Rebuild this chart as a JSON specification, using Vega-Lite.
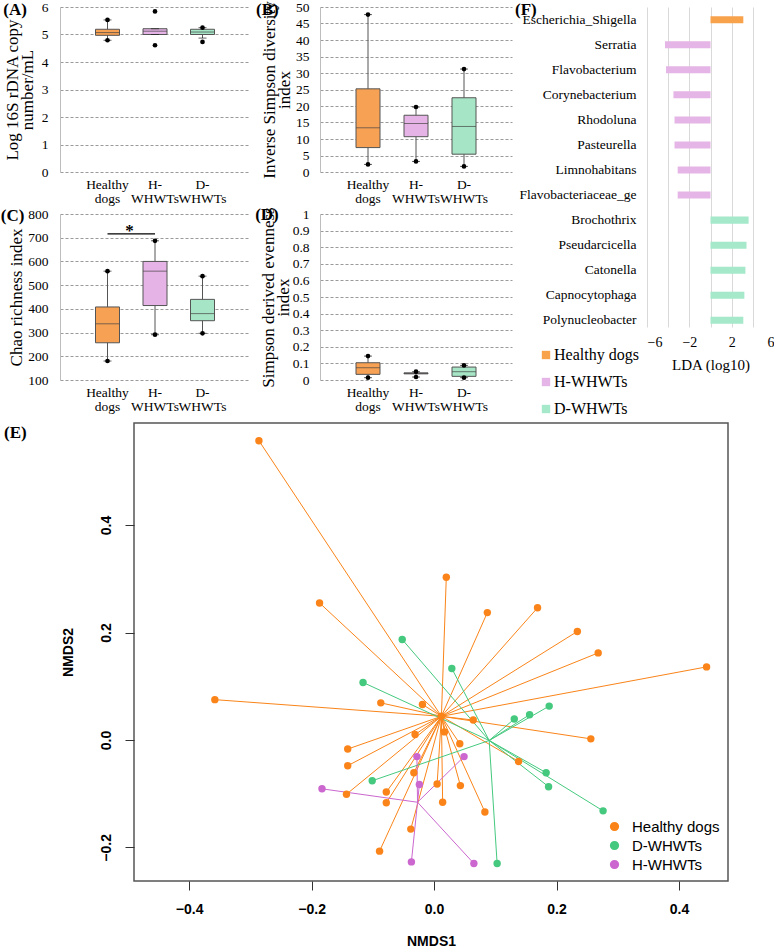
{
  "$schema": "https://vega.github.io/schema/vega-lite/v6.json",
  "padding": 0,
  "background": "white",
  "config": {"view": {"stroke": null}, "font": "Liberation Serif", "axis": {"labelColor": "black", "titleColor": "black"}},
  "datasets": {
    "boxA": [
      {"g": "Healthy dogs", "min": 4.79, "q1": 4.97, "med": 5.07, "q3": 5.19, "max": 5.53, "lo": 4.79, "hi": 5.53},
      {"g": "H-WHWTs", "min": 5.0, "q1": 5.0, "med": 5.12, "q3": 5.21, "max": 5.21, "lo": 4.61, "hi": 5.84},
      {"g": "D-WHWTs", "min": 4.87, "q1": 5.0, "med": 5.09, "q3": 5.19, "max": 5.25, "lo": 4.73, "hi": 5.25}
    ],
    "boxB": [
      {"g": "Healthy dogs", "min": 2.3, "q1": 7.4, "med": 13.4, "q3": 25.2, "max": 47.7, "lo": 2.3, "hi": 47.7},
      {"g": "H-WHWTs", "min": 3.2, "q1": 10.7, "med": 14.7, "q3": 17.2, "max": 19.7, "lo": 3.2, "hi": 19.7},
      {"g": "D-WHWTs", "min": 1.7, "q1": 5.4, "med": 13.8, "q3": 22.5, "max": 31.2, "lo": 1.7, "hi": 31.2}
    ],
    "boxC": [
      {"g": "Healthy dogs", "min": 180, "q1": 257, "med": 337, "q3": 408, "max": 559, "lo": 180, "hi": 559},
      {"g": "H-WHWTs", "min": 291, "q1": 414, "med": 559, "q3": 600, "max": 687, "lo": 291, "hi": 687},
      {"g": "D-WHWTs", "min": 297, "q1": 350, "med": 380, "q3": 440, "max": 538, "lo": 297, "hi": 538}
    ],
    "boxD": [
      {"g": "Healthy dogs", "min": 0.014, "q1": 0.034, "med": 0.074, "q3": 0.104, "max": 0.144, "lo": 0.014, "hi": 0.144},
      {"g": "H-WHWTs", "min": 0.018, "q1": 0.037, "med": 0.04, "q3": 0.043, "max": 0.05, "lo": 0.018, "hi": 0.05},
      {"g": "D-WHWTs", "min": 0.014, "q1": 0.022, "med": 0.05, "q3": 0.078, "max": 0.088, "lo": 0.014, "hi": 0.088}
    ],
    "sig": [{"a": "Healthy dogs", "b": "H-WHWTs", "v": 716, "s": "*"}],
    "blank": [{"k": ""}],
    "lda": [
      {"genus": "Escherichia_Shigella", "lda": 3.1, "grp": "Healthy dogs"},
      {"genus": "Serratia", "lda": -4.3, "grp": "H-WHWTs"},
      {"genus": "Flavobacterium", "lda": -4.2, "grp": "H-WHWTs"},
      {"genus": "Corynebacterium", "lda": -3.5, "grp": "H-WHWTs"},
      {"genus": "Rhodoluna", "lda": -3.4, "grp": "H-WHWTs"},
      {"genus": "Pasteurella", "lda": -3.4, "grp": "H-WHWTs"},
      {"genus": "Limnohabitans", "lda": -3.1, "grp": "H-WHWTs"},
      {"genus": "Flavobacteriaceae_ge", "lda": -3.1, "grp": "H-WHWTs"},
      {"genus": "Brochothrix", "lda": 3.6, "grp": "D-WHWTs"},
      {"genus": "Pseudarcicella", "lda": 3.4, "grp": "D-WHWTs"},
      {"genus": "Catonella", "lda": 3.3, "grp": "D-WHWTs"},
      {"genus": "Capnocytophaga", "lda": 3.2, "grp": "D-WHWTs"},
      {"genus": "Polynucleobacter", "lda": 3.1, "grp": "D-WHWTs"}
    ],
    "cent": [
      {"g": "Healthy dogs", "cx": 0.012, "cy": 0.044},
      {"g": "D-WHWTs", "cx": 0.090, "cy": -0.001},
      {"g": "H-WHWTs", "cx": -0.027, "cy": -0.116}
    ],
    "nmds": [
      {"g": "Healthy dogs", "x": -0.286, "y": 0.557},
      {"g": "Healthy dogs", "x": -0.187, "y": 0.255},
      {"g": "Healthy dogs", "x": 0.020, "y": 0.303},
      {"g": "Healthy dogs", "x": 0.087, "y": 0.237},
      {"g": "Healthy dogs", "x": 0.169, "y": 0.246},
      {"g": "Healthy dogs", "x": 0.234, "y": 0.202},
      {"g": "Healthy dogs", "x": 0.268, "y": 0.162},
      {"g": "Healthy dogs", "x": 0.445, "y": 0.136},
      {"g": "Healthy dogs", "x": -0.358, "y": 0.075},
      {"g": "Healthy dogs", "x": -0.087, "y": 0.069},
      {"g": "Healthy dogs", "x": -0.141, "y": -0.017},
      {"g": "Healthy dogs", "x": -0.141, "y": -0.048},
      {"g": "Healthy dogs", "x": -0.143, "y": -0.101},
      {"g": "Healthy dogs", "x": -0.078, "y": -0.097},
      {"g": "Healthy dogs", "x": -0.078, "y": -0.117},
      {"g": "Healthy dogs", "x": -0.089, "y": -0.207},
      {"g": "Healthy dogs", "x": -0.019, "y": 0.066},
      {"g": "Healthy dogs", "x": 0.064, "y": 0.037},
      {"g": "Healthy dogs", "x": -0.031, "y": 0.010},
      {"g": "Healthy dogs", "x": 0.017, "y": 0.015},
      {"g": "Healthy dogs", "x": 0.042, "y": -0.007},
      {"g": "Healthy dogs", "x": -0.033, "y": -0.061},
      {"g": "Healthy dogs", "x": 0.005, "y": -0.082},
      {"g": "Healthy dogs", "x": 0.043, "y": -0.085},
      {"g": "Healthy dogs", "x": 0.014, "y": -0.116},
      {"g": "Healthy dogs", "x": 0.083, "y": -0.134},
      {"g": "Healthy dogs", "x": 0.256, "y": 0.002},
      {"g": "Healthy dogs", "x": 0.138, "y": -0.040},
      {"g": "Healthy dogs", "x": -0.038, "y": -0.166},
      {"g": "Healthy dogs", "x": 0.012, "y": 0.044},
      {"g": "D-WHWTs", "x": -0.052, "y": 0.187},
      {"g": "D-WHWTs", "x": 0.029, "y": 0.133},
      {"g": "D-WHWTs", "x": -0.116, "y": 0.107},
      {"g": "D-WHWTs", "x": 0.131, "y": 0.039},
      {"g": "D-WHWTs", "x": 0.156, "y": 0.047},
      {"g": "D-WHWTs", "x": 0.188, "y": 0.063},
      {"g": "D-WHWTs", "x": -0.101, "y": -0.076},
      {"g": "D-WHWTs", "x": 0.183, "y": -0.061},
      {"g": "D-WHWTs", "x": 0.187, "y": -0.087},
      {"g": "D-WHWTs", "x": 0.276, "y": -0.132},
      {"g": "D-WHWTs", "x": 0.103, "y": -0.230},
      {"g": "H-WHWTs", "x": -0.183, "y": -0.091},
      {"g": "H-WHWTs", "x": -0.028, "y": -0.031},
      {"g": "H-WHWTs", "x": 0.049, "y": -0.031},
      {"g": "H-WHWTs", "x": -0.024, "y": -0.083},
      {"g": "H-WHWTs", "x": -0.037, "y": -0.227},
      {"g": "H-WHWTs", "x": 0.065, "y": -0.230}
    ]
  },
  "concat": [
    {
      "concat": [
        {
          "concat": [
            {
              "width": 190, "height": 165,
              "data": {"name": "boxA"},
              "title": {"text": "(A)", "anchor": "start", "frame": "bounds", "offset": 0, "dx": 0, "dy": 18.5, "font": "Liberation Serif", "fontSize": 17, "fontWeight": "bold", "color": "black"},
              "encoding": {"x": {"field": "g", "type": "nominal", "scale": {"domain": ["Healthy dogs", "H-WHWTs", "D-WHWTs"], "paddingInner": 0, "paddingOuter": 0.5}, "axis": {"title": null, "labelAngle": 0, "domain": false, "ticks": false, "labelExpr": "datum.value == 'Healthy dogs' ? ['Healthy', 'dogs'] : datum.value == 'H-WHWTs' ? ['H-', 'WHWTs'] : ['D-', 'WHWTs']", "labelFont": "Liberation Serif", "labelFontSize": 13.5, "labelPadding": 5, "labelLineHeight": 14, "labelBaseline": "top"}}},
              "layer": [
                {"mark": {"type": "rule", "color": "#555"}, "encoding": {"y": {"field": "min", "type": "quantitative", "scale": {"domain": [0, 6], "nice": false}, "axis": {"values": [0, 1, 2, 3, 4, 5, 6], "title": ["Log 16S rDNA copy", "number/mL"], "grid": true, "gridDash": [3, 2], "gridColor": "#9a9a9a", "domainColor": "#bdbdbd", "ticks": false, "labelPadding": 12, "labelFont": "Liberation Serif", "labelFontSize": 13.5, "titleFont": "Liberation Serif", "titleFontSize": 17, "titleFontWeight": "normal", "titlePadding": 5, "titleLineHeight": 15}}, "y2": {"field": "max"}}},
                {"mark": {"type": "bar", "size": 24, "stroke": "#555", "strokeWidth": 1}, "encoding": {"y": {"field": "q1", "type": "quantitative", "axis": {"values": [0, 1, 2, 3, 4, 5, 6], "title": ["Log 16S rDNA copy", "number/mL"], "grid": true, "gridDash": [3, 2], "gridColor": "#9a9a9a", "domainColor": "#bdbdbd", "ticks": false, "labelPadding": 12, "labelFont": "Liberation Serif", "labelFontSize": 13.5, "titleFont": "Liberation Serif", "titleFontSize": 17, "titleFontWeight": "normal", "titlePadding": 5, "titleLineHeight": 15}}, "y2": {"field": "q3"}, "color": {"field": "g", "type": "nominal", "scale": {"domain": ["Healthy dogs", "H-WHWTs", "D-WHWTs"], "range": ["#F7A154", "#E6B3E6", "#A6E6C6"]}, "legend": null}}},
                {"mark": {"type": "tick", "size": 24, "thickness": 1, "color": "#444"}, "encoding": {"y": {"field": "med", "type": "quantitative", "axis": {"values": [0, 1, 2, 3, 4, 5, 6], "title": ["Log 16S rDNA copy", "number/mL"], "grid": true, "gridDash": [3, 2], "gridColor": "#9a9a9a", "domainColor": "#bdbdbd", "ticks": false, "labelPadding": 12, "labelFont": "Liberation Serif", "labelFontSize": 13.5, "titleFont": "Liberation Serif", "titleFontSize": 17, "titleFontWeight": "normal", "titlePadding": 5, "titleLineHeight": 15}}}},
                {"mark": {"type": "tick", "size": 8, "thickness": 1, "color": "#222"}, "encoding": {"y": {"field": "min", "type": "quantitative", "axis": {"values": [0, 1, 2, 3, 4, 5, 6], "title": ["Log 16S rDNA copy", "number/mL"], "grid": true, "gridDash": [3, 2], "gridColor": "#9a9a9a", "domainColor": "#bdbdbd", "ticks": false, "labelPadding": 12, "labelFont": "Liberation Serif", "labelFontSize": 13.5, "titleFont": "Liberation Serif", "titleFontSize": 17, "titleFontWeight": "normal", "titlePadding": 5, "titleLineHeight": 15}}}},
                {"mark": {"type": "tick", "size": 8, "thickness": 1, "color": "#222"}, "encoding": {"y": {"field": "max", "type": "quantitative", "axis": {"values": [0, 1, 2, 3, 4, 5, 6], "title": ["Log 16S rDNA copy", "number/mL"], "grid": true, "gridDash": [3, 2], "gridColor": "#9a9a9a", "domainColor": "#bdbdbd", "ticks": false, "labelPadding": 12, "labelFont": "Liberation Serif", "labelFontSize": 13.5, "titleFont": "Liberation Serif", "titleFontSize": 17, "titleFontWeight": "normal", "titlePadding": 5, "titleLineHeight": 15}}}},
                {"mark": {"type": "circle", "size": 22, "color": "black", "opacity": 1}, "encoding": {"y": {"field": "lo", "type": "quantitative", "axis": {"values": [0, 1, 2, 3, 4, 5, 6], "title": ["Log 16S rDNA copy", "number/mL"], "grid": true, "gridDash": [3, 2], "gridColor": "#9a9a9a", "domainColor": "#bdbdbd", "ticks": false, "labelPadding": 12, "labelFont": "Liberation Serif", "labelFontSize": 13.5, "titleFont": "Liberation Serif", "titleFontSize": 17, "titleFontWeight": "normal", "titlePadding": 5, "titleLineHeight": 15}}}},
                {"mark": {"type": "circle", "size": 22, "color": "black", "opacity": 1}, "encoding": {"y": {"field": "hi", "type": "quantitative", "axis": {"values": [0, 1, 2, 3, 4, 5, 6], "title": ["Log 16S rDNA copy", "number/mL"], "grid": true, "gridDash": [3, 2], "gridColor": "#9a9a9a", "domainColor": "#bdbdbd", "ticks": false, "labelPadding": 12, "labelFont": "Liberation Serif", "labelFontSize": 13.5, "titleFont": "Liberation Serif", "titleFontSize": 17, "titleFontWeight": "normal", "titlePadding": 5, "titleLineHeight": 15}}}}
              ]
            },
            {
              "width": 192, "height": 165,
              "data": {"name": "boxB"},
              "title": {"text": "(B)", "anchor": "start", "frame": "bounds", "offset": 0, "dx": -4.5, "dy": 18.5, "font": "Liberation Serif", "fontSize": 17, "fontWeight": "bold", "color": "black"},
              "encoding": {"x": {"field": "g", "type": "nominal", "scale": {"domain": ["Healthy dogs", "H-WHWTs", "D-WHWTs"], "paddingInner": 0, "paddingOuter": 0.5}, "axis": {"title": null, "labelAngle": 0, "domain": false, "ticks": false, "labelExpr": "datum.value == 'Healthy dogs' ? ['Healthy', 'dogs'] : datum.value == 'H-WHWTs' ? ['H-', 'WHWTs'] : ['D-', 'WHWTs']", "labelFont": "Liberation Serif", "labelFontSize": 13.5, "labelPadding": 5, "labelLineHeight": 14, "labelBaseline": "top"}}},
              "layer": [
                {"mark": {"type": "rule", "color": "#555"}, "encoding": {"y": {"field": "min", "type": "quantitative", "scale": {"domain": [0, 50], "nice": false}, "axis": {"values": [0, 5, 10, 15, 20, 25, 30, 35, 40, 45, 50], "title": ["Inverse Simpson diversity", "index"], "grid": true, "gridDash": [3, 2], "gridColor": "#9a9a9a", "domainColor": "#bdbdbd", "ticks": false, "labelPadding": 11, "labelFont": "Liberation Serif", "labelFontSize": 13.5, "titleFont": "Liberation Serif", "titleFontSize": 17, "titleFontWeight": "normal", "titlePadding": 2, "titleLineHeight": 15}}, "y2": {"field": "max"}}},
                {"mark": {"type": "bar", "size": 24, "stroke": "#555", "strokeWidth": 1}, "encoding": {"y": {"field": "q1", "type": "quantitative", "axis": {"values": [0, 5, 10, 15, 20, 25, 30, 35, 40, 45, 50], "title": ["Inverse Simpson diversity", "index"], "grid": true, "gridDash": [3, 2], "gridColor": "#9a9a9a", "domainColor": "#bdbdbd", "ticks": false, "labelPadding": 11, "labelFont": "Liberation Serif", "labelFontSize": 13.5, "titleFont": "Liberation Serif", "titleFontSize": 17, "titleFontWeight": "normal", "titlePadding": 2, "titleLineHeight": 15}}, "y2": {"field": "q3"}, "color": {"field": "g", "type": "nominal", "scale": {"domain": ["Healthy dogs", "H-WHWTs", "D-WHWTs"], "range": ["#F7A154", "#E6B3E6", "#A6E6C6"]}, "legend": null}}},
                {"mark": {"type": "tick", "size": 24, "thickness": 1, "color": "#444"}, "encoding": {"y": {"field": "med", "type": "quantitative", "axis": {"values": [0, 5, 10, 15, 20, 25, 30, 35, 40, 45, 50], "title": ["Inverse Simpson diversity", "index"], "grid": true, "gridDash": [3, 2], "gridColor": "#9a9a9a", "domainColor": "#bdbdbd", "ticks": false, "labelPadding": 11, "labelFont": "Liberation Serif", "labelFontSize": 13.5, "titleFont": "Liberation Serif", "titleFontSize": 17, "titleFontWeight": "normal", "titlePadding": 2, "titleLineHeight": 15}}}},
                {"mark": {"type": "tick", "size": 8, "thickness": 1, "color": "#222"}, "encoding": {"y": {"field": "min", "type": "quantitative", "axis": {"values": [0, 5, 10, 15, 20, 25, 30, 35, 40, 45, 50], "title": ["Inverse Simpson diversity", "index"], "grid": true, "gridDash": [3, 2], "gridColor": "#9a9a9a", "domainColor": "#bdbdbd", "ticks": false, "labelPadding": 11, "labelFont": "Liberation Serif", "labelFontSize": 13.5, "titleFont": "Liberation Serif", "titleFontSize": 17, "titleFontWeight": "normal", "titlePadding": 2, "titleLineHeight": 15}}}},
                {"mark": {"type": "tick", "size": 8, "thickness": 1, "color": "#222"}, "encoding": {"y": {"field": "max", "type": "quantitative", "axis": {"values": [0, 5, 10, 15, 20, 25, 30, 35, 40, 45, 50], "title": ["Inverse Simpson diversity", "index"], "grid": true, "gridDash": [3, 2], "gridColor": "#9a9a9a", "domainColor": "#bdbdbd", "ticks": false, "labelPadding": 11, "labelFont": "Liberation Serif", "labelFontSize": 13.5, "titleFont": "Liberation Serif", "titleFontSize": 17, "titleFontWeight": "normal", "titlePadding": 2, "titleLineHeight": 15}}}},
                {"mark": {"type": "circle", "size": 22, "color": "black", "opacity": 1}, "encoding": {"y": {"field": "lo", "type": "quantitative", "axis": {"values": [0, 5, 10, 15, 20, 25, 30, 35, 40, 45, 50], "title": ["Inverse Simpson diversity", "index"], "grid": true, "gridDash": [3, 2], "gridColor": "#9a9a9a", "domainColor": "#bdbdbd", "ticks": false, "labelPadding": 11, "labelFont": "Liberation Serif", "labelFontSize": 13.5, "titleFont": "Liberation Serif", "titleFontSize": 17, "titleFontWeight": "normal", "titlePadding": 2, "titleLineHeight": 15}}}},
                {"mark": {"type": "circle", "size": 22, "color": "black", "opacity": 1}, "encoding": {"y": {"field": "hi", "type": "quantitative", "axis": {"values": [0, 5, 10, 15, 20, 25, 30, 35, 40, 45, 50], "title": ["Inverse Simpson diversity", "index"], "grid": true, "gridDash": [3, 2], "gridColor": "#9a9a9a", "domainColor": "#bdbdbd", "ticks": false, "labelPadding": 11, "labelFont": "Liberation Serif", "labelFontSize": 13.5, "titleFont": "Liberation Serif", "titleFontSize": 17, "titleFontWeight": "normal", "titlePadding": 2, "titleLineHeight": 15}}}}
              ]
            },
            {
              "width": 190, "height": 166,
              "data": {"name": "boxC"},
              "title": {"text": "(C)", "anchor": "start", "frame": "bounds", "offset": 0, "dx": -7, "dy": 17.5, "font": "Liberation Serif", "fontSize": 17, "fontWeight": "bold", "color": "black"},
              "encoding": {"x": {"field": "g", "type": "nominal", "scale": {"domain": ["Healthy dogs", "H-WHWTs", "D-WHWTs"], "paddingInner": 0, "paddingOuter": 0.5}, "axis": {"title": null, "labelAngle": 0, "domain": false, "ticks": false, "labelExpr": "datum.value == 'Healthy dogs' ? ['Healthy', 'dogs'] : datum.value == 'H-WHWTs' ? ['H-', 'WHWTs'] : ['D-', 'WHWTs']", "labelFont": "Liberation Serif", "labelFontSize": 13.5, "labelPadding": 5, "labelLineHeight": 14, "labelBaseline": "top"}}},
              "layer": [
                {"mark": {"type": "rule", "color": "#555"}, "encoding": {"y": {"field": "min", "type": "quantitative", "scale": {"domain": [100, 800], "nice": false, "zero": false}, "axis": {"values": [100, 200, 300, 400, 500, 600, 700, 800], "title": "Chao richness index", "grid": true, "gridDash": [3, 2], "gridColor": "#9a9a9a", "domainColor": "#bdbdbd", "ticks": false, "labelPadding": 12, "labelFont": "Liberation Serif", "labelFontSize": 13.5, "titleFont": "Liberation Serif", "titleFontSize": 17, "titleFontWeight": "normal", "titlePadding": 2}}, "y2": {"field": "max"}}},
                {"mark": {"type": "bar", "size": 24, "stroke": "#555", "strokeWidth": 1}, "encoding": {"y": {"field": "q1", "type": "quantitative", "axis": {"values": [100, 200, 300, 400, 500, 600, 700, 800], "title": "Chao richness index", "grid": true, "gridDash": [3, 2], "gridColor": "#9a9a9a", "domainColor": "#bdbdbd", "ticks": false, "labelPadding": 12, "labelFont": "Liberation Serif", "labelFontSize": 13.5, "titleFont": "Liberation Serif", "titleFontSize": 17, "titleFontWeight": "normal", "titlePadding": 2}}, "y2": {"field": "q3"}, "color": {"field": "g", "type": "nominal", "scale": {"domain": ["Healthy dogs", "H-WHWTs", "D-WHWTs"], "range": ["#F7A154", "#E6B3E6", "#A6E6C6"]}, "legend": null}}},
                {"mark": {"type": "tick", "size": 24, "thickness": 1, "color": "#444"}, "encoding": {"y": {"field": "med", "type": "quantitative", "axis": {"values": [100, 200, 300, 400, 500, 600, 700, 800], "title": "Chao richness index", "grid": true, "gridDash": [3, 2], "gridColor": "#9a9a9a", "domainColor": "#bdbdbd", "ticks": false, "labelPadding": 12, "labelFont": "Liberation Serif", "labelFontSize": 13.5, "titleFont": "Liberation Serif", "titleFontSize": 17, "titleFontWeight": "normal", "titlePadding": 2}}}},
                {"mark": {"type": "tick", "size": 8, "thickness": 1, "color": "#222"}, "encoding": {"y": {"field": "min", "type": "quantitative", "axis": {"values": [100, 200, 300, 400, 500, 600, 700, 800], "title": "Chao richness index", "grid": true, "gridDash": [3, 2], "gridColor": "#9a9a9a", "domainColor": "#bdbdbd", "ticks": false, "labelPadding": 12, "labelFont": "Liberation Serif", "labelFontSize": 13.5, "titleFont": "Liberation Serif", "titleFontSize": 17, "titleFontWeight": "normal", "titlePadding": 2}}}},
                {"mark": {"type": "tick", "size": 8, "thickness": 1, "color": "#222"}, "encoding": {"y": {"field": "max", "type": "quantitative", "axis": {"values": [100, 200, 300, 400, 500, 600, 700, 800], "title": "Chao richness index", "grid": true, "gridDash": [3, 2], "gridColor": "#9a9a9a", "domainColor": "#bdbdbd", "ticks": false, "labelPadding": 12, "labelFont": "Liberation Serif", "labelFontSize": 13.5, "titleFont": "Liberation Serif", "titleFontSize": 17, "titleFontWeight": "normal", "titlePadding": 2}}}},
                {"mark": {"type": "circle", "size": 22, "color": "black", "opacity": 1}, "encoding": {"y": {"field": "lo", "type": "quantitative", "axis": {"values": [100, 200, 300, 400, 500, 600, 700, 800], "title": "Chao richness index", "grid": true, "gridDash": [3, 2], "gridColor": "#9a9a9a", "domainColor": "#bdbdbd", "ticks": false, "labelPadding": 12, "labelFont": "Liberation Serif", "labelFontSize": 13.5, "titleFont": "Liberation Serif", "titleFontSize": 17, "titleFontWeight": "normal", "titlePadding": 2}}}},
                {"mark": {"type": "circle", "size": 22, "color": "black", "opacity": 1}, "encoding": {"y": {"field": "hi", "type": "quantitative", "axis": {"values": [100, 200, 300, 400, 500, 600, 700, 800], "title": "Chao richness index", "grid": true, "gridDash": [3, 2], "gridColor": "#9a9a9a", "domainColor": "#bdbdbd", "ticks": false, "labelPadding": 12, "labelFont": "Liberation Serif", "labelFontSize": 13.5, "titleFont": "Liberation Serif", "titleFontSize": 17, "titleFontWeight": "normal", "titlePadding": 2}}}},
                {"data": {"name": "sig"}, "mark": {"type": "rule", "color": "black", "strokeWidth": 1.2}, "encoding": {"x": {"field": "a", "type": "nominal"}, "x2": {"field": "b"}, "y": {"field": "v", "type": "quantitative", "axis": {"values": [100, 200, 300, 400, 500, 600, 700, 800], "title": "Chao richness index", "grid": true, "gridDash": [3, 2], "gridColor": "#9a9a9a", "domainColor": "#bdbdbd", "ticks": false, "labelPadding": 12, "labelFont": "Liberation Serif", "labelFontSize": 13.5, "titleFont": "Liberation Serif", "titleFontSize": 17, "titleFontWeight": "normal", "titlePadding": 2}}}},
                {"data": {"name": "sig"}, "mark": {"type": "text", "font": "Liberation Serif", "fontSize": 17, "fontWeight": "bold", "baseline": "alphabetic", "dx": 22, "dy": 2, "color": "black"}, "encoding": {"x": {"field": "a", "type": "nominal"}, "y": {"field": "v", "type": "quantitative", "axis": {"values": [100, 200, 300, 400, 500, 600, 700, 800], "title": "Chao richness index", "grid": true, "gridDash": [3, 2], "gridColor": "#9a9a9a", "domainColor": "#bdbdbd", "ticks": false, "labelPadding": 12, "labelFont": "Liberation Serif", "labelFontSize": 13.5, "titleFont": "Liberation Serif", "titleFontSize": 17, "titleFontWeight": "normal", "titlePadding": 2}}, "text": {"field": "s"}}}
              ]
            },
            {
              "width": 192, "height": 166,
              "data": {"name": "boxD"},
              "title": {"text": "(D)", "anchor": "start", "frame": "bounds", "offset": 0, "dx": -4, "dy": 17.5, "font": "Liberation Serif", "fontSize": 17, "fontWeight": "bold", "color": "black"},
              "encoding": {"x": {"field": "g", "type": "nominal", "scale": {"domain": ["Healthy dogs", "H-WHWTs", "D-WHWTs"], "paddingInner": 0, "paddingOuter": 0.5}, "axis": {"title": null, "labelAngle": 0, "domain": false, "ticks": false, "labelExpr": "datum.value == 'Healthy dogs' ? ['Healthy', 'dogs'] : datum.value == 'H-WHWTs' ? ['H-', 'WHWTs'] : ['D-', 'WHWTs']", "labelFont": "Liberation Serif", "labelFontSize": 13.5, "labelPadding": 5, "labelLineHeight": 14, "labelBaseline": "top"}}},
              "layer": [
                {"mark": {"type": "rule", "color": "#555"}, "encoding": {"y": {"field": "min", "type": "quantitative", "scale": {"domain": [0, 1], "nice": false}, "axis": {"values": [0, 0.1, 0.2, 0.3, 0.4, 0.5, 0.6, 0.7, 0.8, 0.9, 1], "format": "~g", "title": ["Simpson derived evenness", "index"], "grid": true, "gridDash": [3, 2], "gridColor": "#9a9a9a", "domainColor": "#bdbdbd", "ticks": false, "labelPadding": 11, "labelFont": "Liberation Serif", "labelFontSize": 13.5, "titleFont": "Liberation Serif", "titleFontSize": 17, "titleFontWeight": "normal", "titlePadding": 0, "titleLineHeight": 15}}, "y2": {"field": "max"}}},
                {"mark": {"type": "bar", "size": 24, "stroke": "#555", "strokeWidth": 1}, "encoding": {"y": {"field": "q1", "type": "quantitative", "axis": {"values": [0, 0.1, 0.2, 0.3, 0.4, 0.5, 0.6, 0.7, 0.8, 0.9, 1], "format": "~g", "title": ["Simpson derived evenness", "index"], "grid": true, "gridDash": [3, 2], "gridColor": "#9a9a9a", "domainColor": "#bdbdbd", "ticks": false, "labelPadding": 11, "labelFont": "Liberation Serif", "labelFontSize": 13.5, "titleFont": "Liberation Serif", "titleFontSize": 17, "titleFontWeight": "normal", "titlePadding": 0, "titleLineHeight": 15}}, "y2": {"field": "q3"}, "color": {"field": "g", "type": "nominal", "scale": {"domain": ["Healthy dogs", "H-WHWTs", "D-WHWTs"], "range": ["#F7A154", "#E6B3E6", "#A6E6C6"]}, "legend": null}}},
                {"mark": {"type": "tick", "size": 24, "thickness": 1, "color": "#444"}, "encoding": {"y": {"field": "med", "type": "quantitative", "axis": {"values": [0, 0.1, 0.2, 0.3, 0.4, 0.5, 0.6, 0.7, 0.8, 0.9, 1], "format": "~g", "title": ["Simpson derived evenness", "index"], "grid": true, "gridDash": [3, 2], "gridColor": "#9a9a9a", "domainColor": "#bdbdbd", "ticks": false, "labelPadding": 11, "labelFont": "Liberation Serif", "labelFontSize": 13.5, "titleFont": "Liberation Serif", "titleFontSize": 17, "titleFontWeight": "normal", "titlePadding": 0, "titleLineHeight": 15}}}},
                {"mark": {"type": "tick", "size": 8, "thickness": 1, "color": "#222"}, "encoding": {"y": {"field": "min", "type": "quantitative", "axis": {"values": [0, 0.1, 0.2, 0.3, 0.4, 0.5, 0.6, 0.7, 0.8, 0.9, 1], "format": "~g", "title": ["Simpson derived evenness", "index"], "grid": true, "gridDash": [3, 2], "gridColor": "#9a9a9a", "domainColor": "#bdbdbd", "ticks": false, "labelPadding": 11, "labelFont": "Liberation Serif", "labelFontSize": 13.5, "titleFont": "Liberation Serif", "titleFontSize": 17, "titleFontWeight": "normal", "titlePadding": 0, "titleLineHeight": 15}}}},
                {"mark": {"type": "tick", "size": 8, "thickness": 1, "color": "#222"}, "encoding": {"y": {"field": "max", "type": "quantitative", "axis": {"values": [0, 0.1, 0.2, 0.3, 0.4, 0.5, 0.6, 0.7, 0.8, 0.9, 1], "format": "~g", "title": ["Simpson derived evenness", "index"], "grid": true, "gridDash": [3, 2], "gridColor": "#9a9a9a", "domainColor": "#bdbdbd", "ticks": false, "labelPadding": 11, "labelFont": "Liberation Serif", "labelFontSize": 13.5, "titleFont": "Liberation Serif", "titleFontSize": 17, "titleFontWeight": "normal", "titlePadding": 0, "titleLineHeight": 15}}}},
                {"mark": {"type": "circle", "size": 22, "color": "black", "opacity": 1}, "encoding": {"y": {"field": "lo", "type": "quantitative", "axis": {"values": [0, 0.1, 0.2, 0.3, 0.4, 0.5, 0.6, 0.7, 0.8, 0.9, 1], "format": "~g", "title": ["Simpson derived evenness", "index"], "grid": true, "gridDash": [3, 2], "gridColor": "#9a9a9a", "domainColor": "#bdbdbd", "ticks": false, "labelPadding": 11, "labelFont": "Liberation Serif", "labelFontSize": 13.5, "titleFont": "Liberation Serif", "titleFontSize": 17, "titleFontWeight": "normal", "titlePadding": 0, "titleLineHeight": 15}}}},
                {"mark": {"type": "circle", "size": 22, "color": "black", "opacity": 1}, "encoding": {"y": {"field": "hi", "type": "quantitative", "axis": {"values": [0, 0.1, 0.2, 0.3, 0.4, 0.5, 0.6, 0.7, 0.8, 0.9, 1], "format": "~g", "title": ["Simpson derived evenness", "index"], "grid": true, "gridDash": [3, 2], "gridColor": "#9a9a9a", "domainColor": "#bdbdbd", "ticks": false, "labelPadding": 11, "labelFont": "Liberation Serif", "labelFontSize": 13.5, "titleFont": "Liberation Serif", "titleFontSize": 17, "titleFontWeight": "normal", "titlePadding": 0, "titleLineHeight": 15}}}}
              ]
            }
          ],
          "columns": 2,
          "bounds": "flush",
          "spacing": {"column": 70, "row": 42},
          "resolve": {"scale": {"color": "independent"}, "legend": {"color": "independent"}}
        },
        {
          "width": 127, "height": 320,
          "data": {"name": "lda"},
          "title": {"text": "(F)", "anchor": "start", "frame": "bounds", "offset": 0, "dx": -4, "dy": 12, "font": "Liberation Serif", "fontSize": 17, "fontWeight": "bold", "color": "black"},
          "mark": {"type": "bar"},
          "encoding": {
            "y": {"field": "genus", "type": "nominal", "sort": null, "scale": {"paddingInner": 0.72, "paddingOuter": 0.247, "align": 0.744}, "axis": {"title": null, "ticks": false, "domain": false, "labelFont": "Liberation Serif", "labelFontSize": 13.5, "labelPadding": 11}},
            "x": {"field": "lda", "type": "quantitative", "scale": {"domain": [-6, 6], "nice": false}, "axis": {"values": [-6, -4, -2, 0, 2, 4, 6], "title": "LDA (log10)", "grid": true, "gridColor": "#d9d9d9", "domain": false, "ticks": false, "labelFont": "Liberation Serif", "labelFontSize": 14, "titleFont": "Liberation Serif", "titleFontSize": 15, "titleFontWeight": "normal", "labelPadding": 8, "titlePadding": 8}},
            "color": {"field": "grp", "type": "nominal", "scale": {"domain": ["Healthy dogs", "H-WHWTs", "D-WHWTs"], "range": ["#F8A24B", "#E4B5E6", "#A5E8CA"]}, "legend": {"orient": "none", "legendX": -109, "legendY": 340, "title": null, "symbolType": "square", "symbolSize": 70, "symbolStrokeWidth": 0, "labelFont": "Liberation Serif", "labelFontSize": 16, "labelColor": "black", "rowPadding": 11, "labelOffset": 0, "padding": 0}}
          }
        }
      ],
      "align": "none",
      "spacing": 3,
      "resolve": {"scale": {"color": "independent"}, "legend": {"color": "independent"}}
    },
    {
      "concat": [
        {
          "width": 1, "height": 1,
          "data": {"name": "blank"},
          "mark": {"type": "text", "opacity": 0},
          "encoding": {"text": {"field": "k"}}
        },
        {
          "width": 594, "height": 458,
          "view": {"stroke": "#555", "strokeWidth": 1.5},
          "title": {"text": "(E)", "anchor": "start", "frame": "bounds", "offset": 0, "dx": -57, "dy": 19, "font": "Liberation Serif", "fontSize": 17, "fontWeight": "bold", "color": "black"},
          "data": {"name": "nmds"},
          "transform": [{"lookup": "g", "from": {"data": {"name": "cent"}, "key": "g", "fields": ["cx", "cy"]}}],
          "encoding": {
            "x": {"field": "x", "type": "quantitative", "scale": {"domain": [-0.49, 0.48], "nice": false, "zero": false}, "axis": {"values": [-0.4, -0.2, 0, 0.2, 0.4], "format": ".1f", "title": "NMDS1", "grid": false, "domain": false, "tickSize": 9, "tickColor": "#333", "labelFont": "Liberation Sans", "labelFontWeight": "bold", "labelFontSize": 14, "labelPadding": 12, "titleFont": "Liberation Sans", "titleFontWeight": "bold", "titleFontSize": 14, "titlePadding": 18}},
            "y": {"field": "y", "type": "quantitative", "scale": {"domain": [-0.2626, 0.59], "nice": false, "zero": false}, "axis": {"values": [-0.2, 0, 0.2, 0.4], "format": ".1f", "title": "NMDS2", "grid": false, "domain": false, "tickSize": 9, "tickColor": "#333", "labelAngle": -90, "labelAlign": "center", "labelBaseline": "bottom", "labelFont": "Liberation Sans", "labelFontWeight": "bold", "labelFontSize": 14, "labelPadding": 12, "titleFont": "Liberation Sans", "titleFontWeight": "bold", "titleFontSize": 14, "titlePadding": 24}}
          },
          "layer": [
            {"mark": {"type": "rule", "strokeWidth": 1}, "encoding": {"x2": {"field": "cx"}, "y2": {"field": "cy"}, "stroke": {"field": "g", "type": "nominal", "scale": {"domain": ["Healthy dogs", "D-WHWTs", "H-WHWTs"], "range": ["#FA8419", "#45C97F", "#CB67CF"]}, "legend": {"orient": "bottom-right", "offset": 8, "title": null, "symbolType": "circle", "symbolSize": 60, "labelFont": "Liberation Sans", "labelFontSize": 15, "labelColor": "black", "rowPadding": 3, "labelOffset": 10, "padding": 0}}}},
            {"mark": {"type": "circle", "size": 55, "opacity": 1}, "encoding": {"color": {"field": "g", "type": "nominal", "scale": {"domain": ["Healthy dogs", "D-WHWTs", "H-WHWTs"], "range": ["#FA8419", "#45C97F", "#CB67CF"]}, "legend": {"orient": "bottom-right", "offset": 8, "title": null, "symbolType": "circle", "symbolSize": 60, "labelFont": "Liberation Sans", "labelFontSize": 15, "labelColor": "black", "rowPadding": 3, "labelOffset": 10, "padding": 0}}}}
          ]
        }
      ],
      "align": "none",
      "spacing": -58,
      "resolve": {"scale": {"color": "independent", "stroke": "independent"}, "legend": {"color": "independent", "stroke": "independent"}}
    }
  ],
  "columns": 1,
  "align": "none",
  "spacing": 0,
  "resolve": {"scale": {"color": "independent", "stroke": "independent"}, "legend": {"color": "independent", "stroke": "independent"}}
}
